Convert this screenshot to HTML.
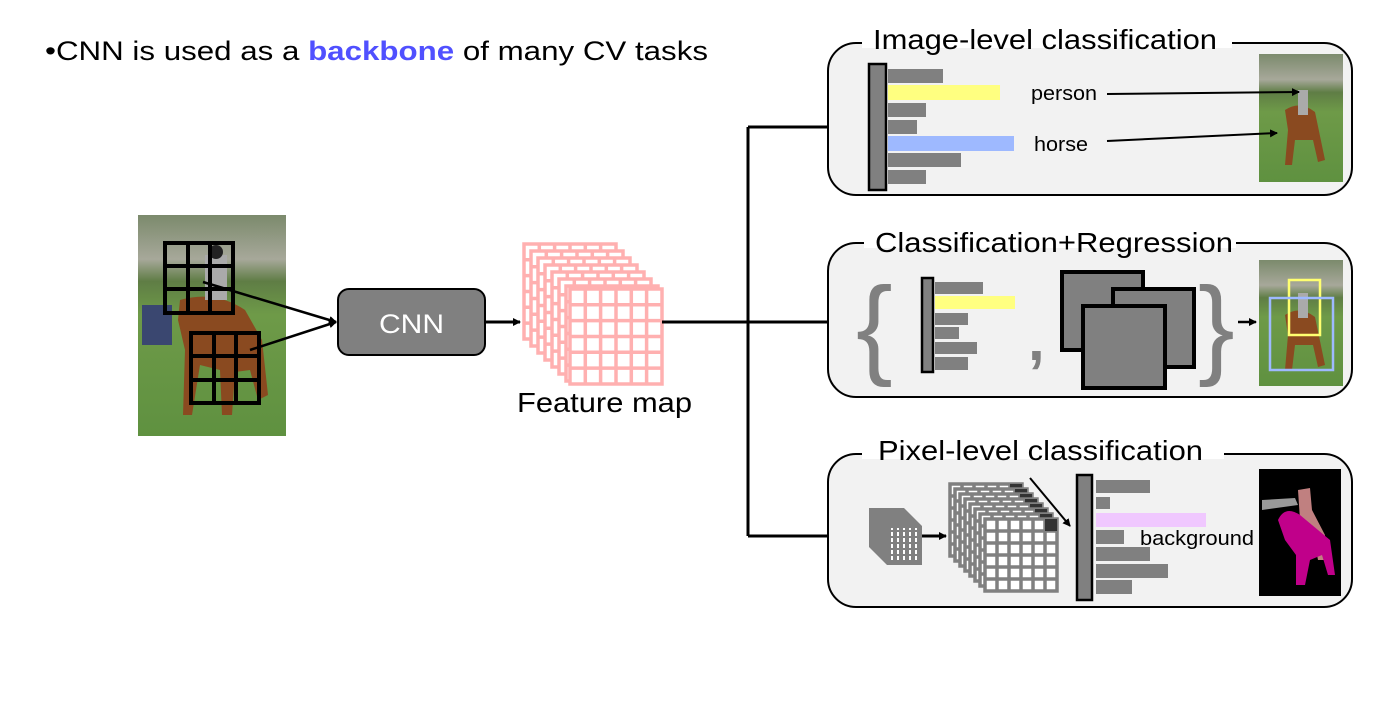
<!DOCTYPE html>
<html><head><meta charset="utf-8"><style>
html,body{margin:0;padding:0;background:#fff;}
svg{display:block;font-family:"Liberation Sans",Arial,sans-serif;}
</style></head><body>
<svg width="1375" height="708" viewBox="0 0 1375 708" xmlns="http://www.w3.org/2000/svg">
<defs>
<marker id="ar" markerWidth="8" markerHeight="8" refX="7" refY="4" orient="auto" markerUnits="userSpaceOnUse"><path d="M0,0 L8,4 L0,8 z" fill="#000"/></marker>
<g id="pg">
<rect x="0" y="0" width="92" height="95" fill="#fff" stroke="#ffb0b0" stroke-width="3.5"/>
<path d="M15.3,0V95M30.6,0V95M46,0V95M61.3,0V95M76.6,0V95M0,15.8H92M0,31.6H92M0,47.5H92M0,63.3H92M0,79.1H92" stroke="#ffb0b0" stroke-width="3.5"/>
</g>
<g id="gg">
<rect x="0" y="0" width="72" height="72" fill="#fff" stroke="#808080" stroke-width="3.5"/>
<path d="M12,0V72M24,0V72M36,0V72M48,0V72M60,0V72M0,12H72M0,24H72M0,36H72M0,48H72M0,60H72" stroke="#808080" stroke-width="3.5"/>
<rect x="60" y="0" width="12" height="12" fill="#333"/>
</g>
<linearGradient id="photo" x1="0" y1="0" x2="0" y2="1">
<stop offset="0" stop-color="#7b8a6c"/><stop offset="0.2" stop-color="#a7a89a"/><stop offset="0.3" stop-color="#5f7d45"/><stop offset="0.45" stop-color="#6e9a48"/><stop offset="1" stop-color="#5f9140"/>
</linearGradient>
</defs>

<text x="45" y="60" font-size="27" fill="#000" textLength="663" lengthAdjust="spacingAndGlyphs">•CNN is used as a <tspan fill="#5050ff" font-weight="bold">backbone</tspan> of many CV tasks</text>

<!-- input photo -->
<rect x="138" y="215" width="148" height="221" fill="url(#photo)"/>
<rect x="142" y="305" width="30" height="40" fill="#3a4770"/>
<path d="M180,300 Q215,290 245,310 L262,340 L268,395 L258,400 L250,370 L235,372 L232,415 L222,415 L220,370 L200,365 L192,415 L183,415 L185,350 L178,320 Z" fill="#8a4a20"/>
<rect x="205" y="255" width="22" height="45" fill="#aaa"/>
<circle cx="216" cy="252" r="7" fill="#222"/>
<g stroke="#000" stroke-width="4" fill="none">
<rect x="165" y="243" width="68" height="70"/><path d="M188,243V313M210,243V313M165,266H233M165,289H233"/>
<rect x="191" y="333" width="68" height="70"/><path d="M214,333V403M236,333V403M191,356H259M191,380H259"/>
</g>
<line x1="203" y1="282" x2="336" y2="322" stroke="#000" stroke-width="2.5" marker-end="url(#ar)"/>
<line x1="250" y1="350" x2="336" y2="322" stroke="#000" stroke-width="2.5" marker-end="url(#ar)"/>

<!-- CNN -->
<rect x="338" y="289" width="147" height="66" rx="11" fill="#808080" stroke="#000" stroke-width="2"/>
<text x="379" y="333" font-size="27" fill="#fff" textLength="65" lengthAdjust="spacingAndGlyphs">CNN</text>
<line x1="486" y1="322" x2="520" y2="322" stroke="#000" stroke-width="3" marker-end="url(#ar)"/>

<!-- feature map -->
<use href="#pg" x="524" y="244"/><use href="#pg" x="531" y="251"/><use href="#pg" x="538" y="258"/><use href="#pg" x="545" y="265"/><use href="#pg" x="552" y="272"/><use href="#pg" x="559" y="279"/><use href="#pg" x="566" y="286"/><use href="#pg" x="570" y="289"/>
<text x="517" y="412" font-size="28" fill="#000" textLength="175" lengthAdjust="spacingAndGlyphs">Feature map</text>

<!-- connectors -->
<path d="M662,322H748M748,127V536" stroke="#000" stroke-width="3" fill="none"/>
<line x1="748" y1="127" x2="866" y2="127" stroke="#000" stroke-width="3" marker-end="url(#ar)"/>
<line x1="748" y1="322" x2="866" y2="322" stroke="#000" stroke-width="3" marker-end="url(#ar)"/>
<line x1="748" y1="536" x2="866" y2="536" stroke="#000" stroke-width="3" marker-end="url(#ar)"/>

<!-- panel 1 -->
<rect x="828" y="43" width="524" height="152" rx="28" fill="#f2f2f2" stroke="#000" stroke-width="2"/>
<rect x="862" y="28" width="370" height="20" fill="#fff"/>
<text x="873" y="49" font-size="28" fill="#000" textLength="344" lengthAdjust="spacingAndGlyphs">Image-level classification</text>
<rect x="869" y="64" width="17" height="126" fill="#808080" stroke="#000" stroke-width="2.5"/>
<rect x="888" y="69" width="55" height="14" fill="#808080"/>
<rect x="888" y="85" width="112" height="15" fill="#ffff80"/>
<rect x="888" y="103" width="38" height="14" fill="#808080"/>
<rect x="888" y="120" width="29" height="14" fill="#808080"/>
<rect x="888" y="136" width="126" height="15" fill="#9eb9ff"/>
<rect x="888" y="153" width="73" height="14" fill="#808080"/>
<rect x="888" y="170" width="38" height="14" fill="#808080"/>
<text x="1031" y="100" font-size="20" fill="#000" textLength="66" lengthAdjust="spacingAndGlyphs">person</text>
<text x="1034" y="151" font-size="20" fill="#000" textLength="54" lengthAdjust="spacingAndGlyphs">horse</text>
<rect x="1259" y="54" width="84" height="128" fill="url(#photo)"/>
<path d="M1285,110 Q1300,100 1315,112 L1325,160 L1318,162 L1313,140 L1295,140 L1292,165 L1285,165 L1288,130 Z" fill="#8a4a20"/>
<rect x="1298" y="90" width="10" height="25" fill="#aaa"/>
<line x1="1107" y1="94" x2="1299" y2="92" stroke="#000" stroke-width="2" marker-end="url(#ar)"/>
<line x1="1107" y1="141" x2="1277" y2="133" stroke="#000" stroke-width="2" marker-end="url(#ar)"/>

<!-- panel 2 -->
<rect x="828" y="243" width="524" height="154" rx="28" fill="#f2f2f2" stroke="#000" stroke-width="2"/>
<rect x="864" y="228" width="372" height="20" fill="#fff"/>
<text x="875" y="252" font-size="28" fill="#000" textLength="358" lengthAdjust="spacingAndGlyphs">Classification+Regression</text>
<text x="856" y="364" font-size="110" fill="#808080">{</text>
<rect x="922" y="278" width="11" height="94" fill="#808080" stroke="#000" stroke-width="2.5"/>
<rect x="935" y="282" width="48" height="12" fill="#808080"/>
<rect x="935" y="296" width="80" height="13" fill="#ffff80"/>
<rect x="935" y="313" width="33" height="12" fill="#808080"/>
<rect x="935" y="327" width="24" height="12" fill="#808080"/>
<rect x="935" y="342" width="42" height="12" fill="#808080"/>
<rect x="935" y="357" width="33" height="13" fill="#808080"/>
<text x="1028" y="360" font-size="60" fill="#808080" font-weight="bold">,</text>
<rect x="1062" y="272" width="81" height="78" fill="#808080" stroke="#000" stroke-width="4"/>
<rect x="1113" y="289" width="81" height="78" fill="#808080" stroke="#000" stroke-width="4"/>
<rect x="1083" y="306" width="82" height="82" fill="#808080" stroke="#000" stroke-width="4"/>
<text x="1198" y="364" font-size="110" fill="#808080">}</text>
<line x1="1238" y1="322" x2="1256" y2="322" stroke="#000" stroke-width="2.5" marker-end="url(#ar)"/>
<rect x="1259" y="260" width="84" height="126" fill="url(#photo)"/>
<path d="M1285,315 Q1300,305 1315,317 L1325,365 L1318,367 L1313,345 L1295,345 L1292,370 L1285,370 L1288,335 Z" fill="#8a4a20"/>
<rect x="1298" y="293" width="10" height="25" fill="#aaa"/>
<rect x="1289" y="280" width="31" height="55" fill="none" stroke="#ffff70" stroke-width="2.5"/>
<rect x="1270" y="298" width="63" height="72" fill="none" stroke="#9eb9ff" stroke-width="2.5"/>

<!-- panel 3 -->
<rect x="828" y="454" width="524" height="153" rx="28" fill="#f2f2f2" stroke="#000" stroke-width="2"/>
<rect x="862" y="439" width="362" height="20" fill="#fff"/>
<text x="878" y="460" font-size="28" fill="#000" textLength="325" lengthAdjust="spacingAndGlyphs">Pixel-level classification</text>
<path d="M869,508 L904,508 L922,526 L922,565 L887,565 L869,547 Z" fill="#808080"/>
<g fill="#fff"><rect x="891" y="528" width="2" height="32"/><rect x="897" y="528" width="2" height="32"/><rect x="903" y="528" width="2" height="32"/><rect x="909" y="528" width="2" height="32"/><rect x="915" y="528" width="2" height="32"/></g>
<g fill="#808080"><rect x="888" y="530" width="32" height="2"/><rect x="888" y="536" width="32" height="2"/><rect x="888" y="542" width="32" height="2"/><rect x="888" y="548" width="32" height="2"/><rect x="888" y="554" width="32" height="2"/></g>
<line x1="922" y1="536" x2="946" y2="536" stroke="#000" stroke-width="3" marker-end="url(#ar)"/>
<use href="#gg" x="950" y="484"/><use href="#gg" x="955" y="489"/><use href="#gg" x="960" y="494"/><use href="#gg" x="965" y="499"/><use href="#gg" x="970" y="504"/><use href="#gg" x="975" y="509"/><use href="#gg" x="980" y="514"/><use href="#gg" x="985" y="519"/>
<line x1="1030" y1="478" x2="1070" y2="526" stroke="#000" stroke-width="2" marker-end="url(#ar)"/>
<rect x="1077" y="475" width="15" height="125" fill="#808080" stroke="#000" stroke-width="2.5"/>
<rect x="1096" y="480" width="54" height="13" fill="#808080"/>
<rect x="1096" y="497" width="14" height="12" fill="#808080"/>
<rect x="1096" y="513" width="110" height="14" fill="#f0c8ff"/>
<rect x="1096" y="530" width="28" height="14" fill="#808080"/>
<rect x="1096" y="547" width="54" height="14" fill="#808080"/>
<rect x="1096" y="564" width="72" height="14" fill="#808080"/>
<rect x="1096" y="580" width="36" height="14" fill="#808080"/>
<text x="1140" y="545" font-size="20" fill="#000" textLength="114" lengthAdjust="spacingAndGlyphs">background</text>
<rect x="1259" y="469" width="82" height="127" fill="#000"/>
<path d="M1262,500 L1295,498 L1298,505 L1262,510 Z" fill="#999"/>
<path d="M1298,490 L1310,488 L1312,510 L1325,535 L1325,560 L1318,560 L1312,530 L1300,520 Z" fill="#c08080"/>
<path d="M1278,520 Q1285,505 1300,515 L1330,540 L1335,575 L1328,575 L1322,555 L1310,560 L1305,585 L1296,585 L1296,555 L1285,540 Z" fill="#c0008a"/>
</svg>
</body></html>
